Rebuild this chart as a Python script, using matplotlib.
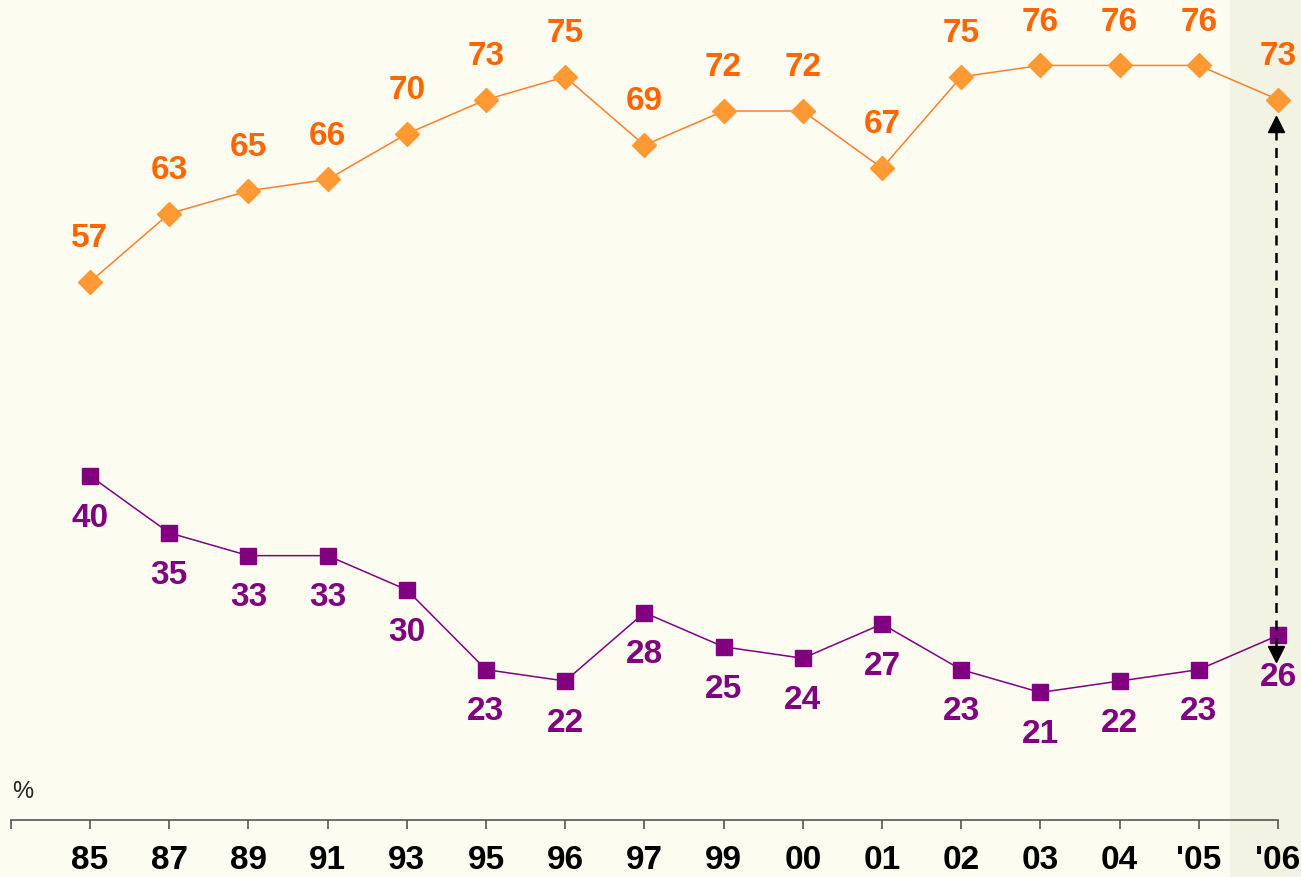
import numpy as np
import matplotlib.pyplot as plt

plt.rcParams['font.family'] = ['Liberation Sans', 'DejaVu Sans']

years = ['85', '87', '89', '91', '93', '95', '96', '97', '99', '00', '01', '02', '03', '04', "'05", "'06"]
orange_vals = [57, 63, 65, 66, 70, 73, 75, 69, 72, 72, 67, 75, 76, 76, 76, 73]
purple_vals = [40, 35, 33, 33, 30, 23, 22, 28, 25, 24, 27, 23, 21, 22, 23, 26]

ORANGE_LINE = '#ff7f2a'
ORANGE_MARK = '#ff9933'
ORANGE_TEXT = '#ff6600'
PURPLE = '#800080'

fig = plt.figure(figsize=(13.01, 8.77), dpi=100)
fig.patch.set_facecolor('#fcfcf1')
ax = fig.add_axes([0, 0, 1, 1])
ax.set_facecolor('#fcfcf1')

x = np.arange(len(years))
ax.set_xlim(-1.136, 15.29)
ax.set_ylim(4.81, 81.74)
ax.axis('off')

# highlighted last year
ax.axvspan(14.39, 15.29, color='#f3f3e3', zorder=0)

# x axis
y_axis = 9.81
ax.plot([-1, 15], [y_axis, y_axis], color='#555555', lw=1.2, zorder=2)
ax.vlines(np.append(-1, x), y_axis - 0.75, y_axis, color='#555555', lw=1.2, zorder=2)
for xi, lab in zip(x, years):
    ax.text(xi, 6.3, lab, ha='center', va='center', fontsize=24, fontweight='bold', color='black')
ax.text(-0.85, 12.3, '%', ha='center', va='center', fontsize=17, color='#222222')

# series
ax.plot(x, orange_vals, color=ORANGE_LINE, lw=1.1, marker='D', markersize=12,
        markerfacecolor=ORANGE_MARK, markeredgecolor=ORANGE_MARK, zorder=3)
ax.plot(x, purple_vals, color=PURPLE, lw=1.1, marker='s', markersize=11.5,
        markerfacecolor=PURPLE, markeredgecolor=PURPLE, zorder=3)

for xi, v in zip(x, orange_vals):
    ax.text(xi, v + 3.8, str(v), ha='center', va='center', fontsize=24,
            fontweight='bold', color=ORANGE_TEXT)
for xi, v in zip(x, purple_vals):
    ax.text(xi, v - 3.7, str(v), ha='center', va='center', fontsize=24,
            fontweight='bold', color=PURPLE)

# gap arrow
top = orange_vals[-1] - 1.5
bottom = purple_vals[-1] - 2.2
ax.plot([x[-1] - 0.02, x[-1] - 0.02], [top - 1.2, bottom + 1.2], color='black',
        lw=1.8, ls=(0, (4, 3)), zorder=4)
ax.plot(x[-1] - 0.02, top - 0.6, marker='^', color='black', markersize=12, zorder=4)
ax.plot(x[-1] - 0.02, bottom + 0.6, marker='v', color='black', markersize=12, zorder=4)

fig.savefig('out.png', dpi=100, facecolor=fig.get_facecolor())
